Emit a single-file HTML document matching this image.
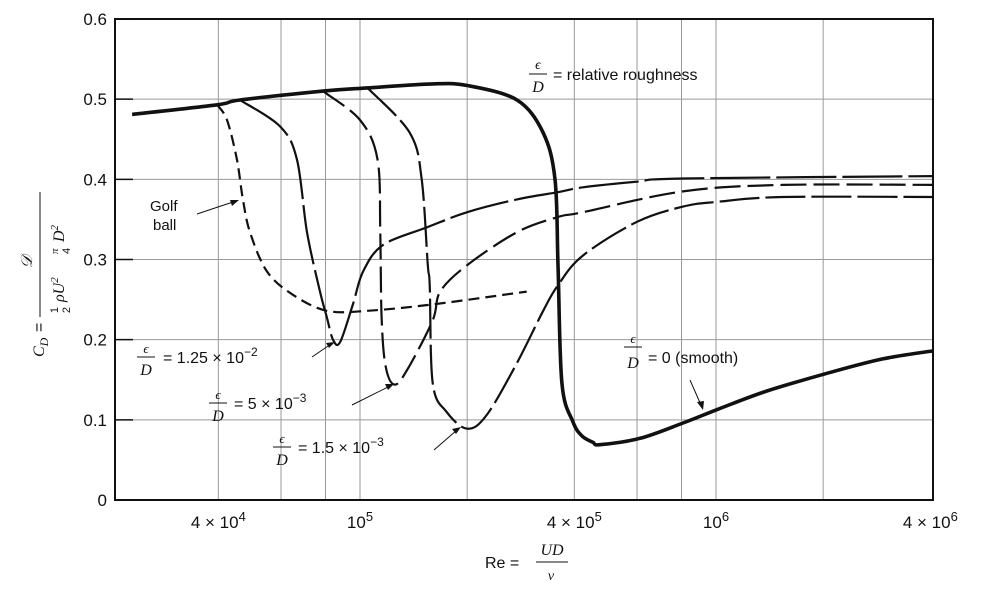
<!DOCTYPE html>
<html><head><meta charset="utf-8"><style>
html,body{margin:0;padding:0;background:#fff}
svg{display:block;font-family:"Liberation Sans",sans-serif}
.it{font-family:"Liberation Serif",serif;font-style:italic}
</style></head><body>
<svg id="chart" width="999" height="590" viewBox="0 0 999 590" xmlns="http://www.w3.org/2000/svg">
<g id="grid"></g>
<g id="series"></g>
<rect x="115" y="19" width="818" height="481" fill="none" stroke="#111" stroke-width="2"/>
<g id="axes" font-size="17" fill="#111"></g>

<g font-size="16" fill="#111">
<text x="538" y="69" class="it" font-size="14" text-anchor="middle">ϵ</text>
<line x1="529" y1="74" x2="547" y2="74" stroke="#111" stroke-width="1"/>
<text x="538" y="92" class="it" text-anchor="middle">D</text>
<text x="553" y="80">=  relative roughness</text>
</g>
<g font-size="15" fill="#111">
<text x="150" y="211">Golf</text><text x="153" y="230">ball</text>
<line x1="197" y1="214" x2="236" y2="201" stroke="#111" stroke-width="1"/>
<polygon points="239,200 230,200 232,206" fill="#111"/>
</g>
<g font-size="16" fill="#111">
<text x="146" y="353" class="it" font-size="13" text-anchor="middle">ϵ</text>
<line x1="137" y1="357" x2="155" y2="357" stroke="#111"/>
<text x="146" y="375" class="it" text-anchor="middle">D</text>
<text x="163" y="363">=  1.25  ×  10<tspan dy="-7" font-size="12">−2</tspan></text>
<line x1="312" y1="357" x2="331" y2="344" stroke="#111"/>
<polygon points="335,342 326,343 329,348" fill="#111"/>
</g>
<g font-size="16" fill="#111">
<text x="218" y="399" class="it" font-size="13" text-anchor="middle">ϵ</text>
<line x1="209" y1="403" x2="227" y2="403" stroke="#111"/>
<text x="218" y="421" class="it" text-anchor="middle">D</text>
<text x="234" y="409">=  5  ×  10<tspan dy="-7" font-size="12">−3</tspan></text>
<line x1="352" y1="405" x2="390" y2="386" stroke="#111"/>
<polygon points="394,384 385,384 388,390" fill="#111"/>
</g>
<g font-size="16" fill="#111">
<text x="282" y="443" class="it" font-size="13" text-anchor="middle">ϵ</text>
<line x1="273" y1="447" x2="291" y2="447" stroke="#111"/>
<text x="282" y="465" class="it" text-anchor="middle">D</text>
<text x="298" y="453">=  1.5  ×  10<tspan dy="-7" font-size="12">−3</tspan></text>
<line x1="434" y1="450" x2="457" y2="430" stroke="#111"/>
<polygon points="461,427 452,429 456,434" fill="#111"/>
</g>
<g font-size="16" fill="#111">
<text x="633" y="343" class="it" font-size="13" text-anchor="middle">ϵ</text>
<line x1="624" y1="347" x2="642" y2="347" stroke="#111"/>
<text x="633" y="368" class="it" text-anchor="middle">D</text>
<text x="648" y="363">=  0  (smooth)</text>
<line x1="690" y1="380" x2="701" y2="405" stroke="#111"/>
<polygon points="703,410 697,402 704,401" fill="#111"/>
</g>
<g font-size="16" fill="#111">
<text x="485" y="568">Re  =</text>
<text x="552" y="555" class="it" text-anchor="middle">UD</text>
<line x1="536" y1="562" x2="568" y2="562" stroke="#111"/>
<text x="551" y="580" class="it" text-anchor="middle" font-size="14">ν</text>
</g>
<g transform="translate(44,262) rotate(-90)" font-size="16" fill="#111">
<text x="-95" y="0" class="it">C<tspan dy="4" font-size="12">D</tspan></text>
<text x="-70" y="0">=</text>
<text x="0" y="-12" class="it" text-anchor="middle">𝒟</text>
<line x1="-55" y1="-4" x2="70" y2="-4" stroke="#111"/>
<text x="-48" y="14" font-size="11" text-anchor="middle">1</text>
<text x="-48" y="26" font-size="11" text-anchor="middle">2</text>
<text x="-40" y="20" class="it">ρU<tspan dy="-6" font-size="11">2</tspan></text>
<text x="8" y="14" font-size="11" class="it">π</text>
<text x="8" y="26" font-size="11">4</text>
<text x="20" y="20" class="it">D<tspan dy="-6" font-size="11">2</tspan></text>
</g>
</svg>
<script>
const yTicks = [0, 0.1, 0.2, 0.3, 0.4, 0.5, 0.6];
const yTickLabels = ["0", "0.1", "0.2", "0.3", "0.4", "0.5", "0.6"];
const xGrid = [4e4, 6e4, 8e4, 1e5, 2e5, 4e5, 6e5, 8e5, 1e6, 2e6];
const xTicks = [4e4, 1e5, 4e5, 1e6, 4e6];
const xTickBase = ["4 × 10", "10", "4 × 10", "10", "4 × 10"];
const xTickExp = ["4", "5", "5", "6", "6"];

const smoothRe = [2.29e4,3.97e4,4.6e4,7.87e4,1.05e5,1.6e5,2.0e5,2.76e5,3.27e5,3.53e5,3.6e5,3.69e5,3.96e5,4.2e5,4.51e5,4.72e5,6.12e5,8.08e5,1.01e6,1.39e6,2.05e6,2.94e6,4.07e6];
const smoothCd = [0.481,0.493,0.499,0.510,0.514,0.519,0.517,0.499,0.458,0.40,0.293,0.146,0.098,0.080,0.072,0.069,0.077,0.096,0.113,0.136,0.158,0.176,0.186];
const r15Re = [1.05e5,1.38e5,1.49e5,1.55e5,1.57e5,1.6e5,1.75e5,2.0e5,2.27e5,2.76e5,3.27e5,3.6e5,4.23e5,6.0e5,8.08e5,1.01e6,1.54e6,4.07e6];
const r15Cd = [0.514,0.458,0.40,0.293,0.268,0.146,0.11,0.089,0.106,0.171,0.236,0.268,0.305,0.347,0.366,0.372,0.378,0.378];
const r5Re = [7.87e4,1.0e5,1.12e5,1.14e5,1.15e5,1.18e5,1.25e5,1.36e5,1.6e5,1.68e5,2.0e5,2.76e5,3.6e5,4.23e5,8.08e5,1.54e6,4.07e6];
const r5Cd = [0.510,0.474,0.425,0.334,0.228,0.167,0.144,0.163,0.224,0.26,0.293,0.334,0.353,0.359,0.385,0.393,0.393];
const r125Re = [4.6e4,5.96e4,6.65e4,7.10e4,7.72e4,8.07e4,8.40e4,8.79e4,9.55e4,1.02e5,1.16e5,1.54e5,2.0e5,2.76e5,3.6e5,4.23e5,6.0e5,8.08e5,4.07e6];
const r125Cd = [0.499,0.466,0.425,0.334,0.26,0.228,0.20,0.197,0.244,0.285,0.318,0.34,0.359,0.375,0.384,0.39,0.397,0.401,0.404];
const golfRe = [3.97e4,4.23e4,4.51e4,4.69e4,4.91e4,5.48e4,6.48e4,8.07e4,1.05e5,1.6e5,2.94e5];
const golfCd = [0.493,0.474,0.425,0.375,0.334,0.285,0.256,0.236,0.236,0.244,0.26];

const L=115,R=933,T=19,B=500;
const lmin=5-245/356, lmax=5+573/356;
function xs(re){return L+(Math.log10(re)-lmin)/(lmax-lmin)*(R-L);}
function ys(v){return B-v/0.6*(B-T);}
const NS="http://www.w3.org/2000/svg";
function mk(tag,attrs,parent){const e=document.createElementNS(NS,tag);for(const k in attrs)e.setAttribute(k,attrs[k]);parent.appendChild(e);return e;}

const grid=document.getElementById('grid');
yTicks.forEach(v=>{
  const g=mk('line',{x1:L,x2:R,y1:ys(v),y2:ys(v),stroke:'#999','stroke-width':1},grid);
  
  
});
xGrid.forEach(v=>{
  const g=mk('line',{x1:xs(v),x2:xs(v),y1:T,y2:B,stroke:'#999','stroke-width':1},grid);
  
  
});
const axes=document.getElementById('axes');
yTicks.forEach((v,i)=>{
  const t=mk('line',{x1:L,x2:L+18,y1:ys(v),y2:ys(v),stroke:'#111','stroke-width':1.5},axes);
  
  
  const tx=mk('text',{x:L-8,y:ys(v)+6,'text-anchor':'end'},axes);
  tx.textContent=yTickLabels[i];
  
  
});
xTicks.forEach((v,i)=>{
  const tx=mk('text',{x:xs(v),y:528,'text-anchor':'middle'},axes);
  tx.textContent=xTickBase[i];
  const sp=mk('tspan',{dy:-7,'font-size':13},tx);
  sp.textContent=xTickExp[i];
  
  
});

function pathFrom(res,cds){
  const p=res.map((r,i)=>[xs(r),ys(cds[i])]);
  let d='M'+p[0][0].toFixed(1)+','+p[0][1].toFixed(1);
  for(let i=0;i<p.length-1;i++){
    const p0=p[Math.max(0,i-1)],p1=p[i],p2=p[i+1],p3=p[Math.min(p.length-1,i+2)];
    const k=1/6;
    const c1=[p1[0]+(p2[0]-p0[0])*k,p1[1]+(p2[1]-p0[1])*k];
    const c2=[p2[0]-(p3[0]-p1[0])*k,p2[1]-(p3[1]-p1[1])*k];
    d+='C'+c1.map(n=>n.toFixed(1))+' '+c2.map(n=>n.toFixed(1))+' '+p2.map(n=>n.toFixed(1));
  }
  return d;
}
const sg=document.getElementById('series');
function addSeries(res,cds,name,w,dash){
  const el=mk('path',{d:pathFrom(res,cds),fill:'none',stroke:'#111','stroke-width':w,'stroke-linejoin':'round'},sg);
  if(dash)el.setAttribute('stroke-dasharray',dash);
  
  
}
addSeries(r125Re,r125Cd,'curve-eps-1.25e-2',2.2,'60 6');
addSeries(r5Re,r5Cd,'curve-eps-5e-3',2.2,'26 7');
addSeries(r15Re,r15Cd,'curve-eps-1.5e-3',2.2,'40 6');
addSeries(golfRe,golfCd,'curve-golf-ball',2.2,'11 6');
addSeries(smoothRe,smoothCd,'curve-smooth',3.6,null);
</script>
</body></html>
